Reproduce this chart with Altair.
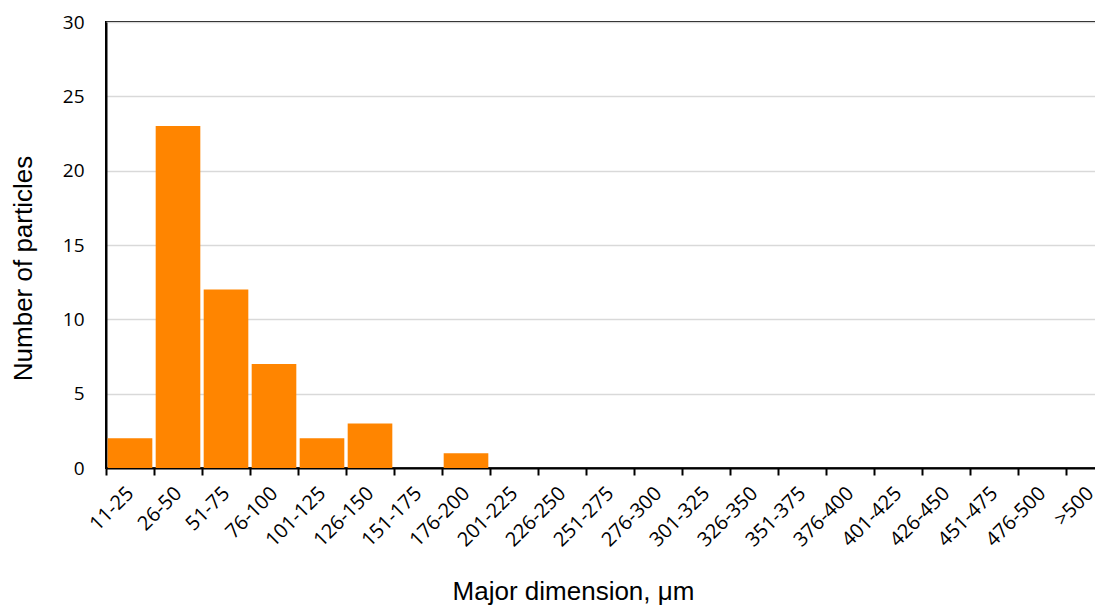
import altair as alt
import pandas as pd

categories = ["11-25", "26-50", "51-75", "76-100", "101-125", "126-150", "151-175",
              "176-200", "201-225", "226-250", "251-275", "276-300", "301-325",
              "326-350", "351-375", "376-400", "401-425", "426-450", "451-475",
              "476-500", ">500"]
counts = [2, 23, 12, 7, 2, 3, 0, 1, 0, 0, 0, 0, 0, 0, 0, 0, 0, 0, 0, 0, 0]

df = pd.DataFrame({"size": categories, "count": counts})

chart = alt.Chart(df).mark_bar(
    color="#FF8500", width=alt.RelativeBandSize(0.93)
).encode(
    x=alt.X("size:N", sort=categories,
            scale=alt.Scale(paddingInner=0, paddingOuter=0),
            axis=alt.Axis(title="Major dimension, μm", labelAngle=-45, labelAlign="right",
                          labelBaseline="middle",
                          labelFont="Open Sans", labelFontSize=20, labelColor="#000",
                          labelPadding=15, tickBand="extent", tickSize=7, tickColor="#000",
                          tickWidth=2, domainColor="#000", domainWidth=2, grid=False,
                          titleFont="Liberation Sans", titleFontSize=26, titleFontWeight="normal",
                          titleColor="#000", titleX=467, titleY=131, titleAlign="center",
                          titleBaseline="alphabetic", labelOverlap=False)),
    y=alt.Y("count:Q", scale=alt.Scale(domain=[0, 30], nice=False),
            axis=alt.Axis(title="Number of particles", values=[0, 5, 10, 15, 20, 25, 30],
                          labelFont="Open Sans", labelFontSize=19, labelColor="#000",
                          labelPadding=22, ticks=False, domainColor="#000", domainWidth=2,
                          gridColor="#d9d9d9", gridWidth=1.5,
                          titleFont="Liberation Sans", titleFontSize=26, titleFontWeight="normal",
                          titleColor="#000", titleX=-75, titleY=246, titleAngle=-90,
                          titleAlign="center", titleBaseline="alphabetic")),
).properties(
    width=1008, height=446,
    autosize=alt.AutoSizeParams(type="none"),
    padding={"left": 98, "top": 14, "right": -19, "bottom": 137},
).configure_view(stroke="#000", strokeWidth=2)

chart.save("out.html", embed_options={"renderer": "svg", "actions": False})
